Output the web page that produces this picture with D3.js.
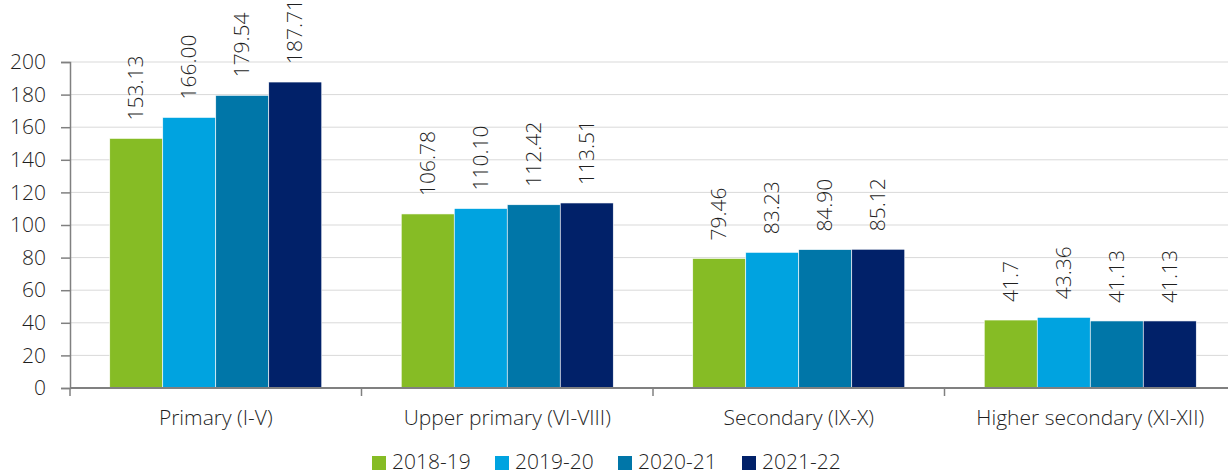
<!DOCTYPE html>
<html><head><meta charset="utf-8">
<script src="https://cdn.jsdelivr.net/npm/d3@7"></script>
<style>body{margin:0;background:#fff}svg{display:block}</style>
</head><body>
<svg id="c" width="1228" height="475"></svg>
<script>
const categories = ["Primary (I-V)", "Upper primary (VI-VIII)", "Secondary (IX-X)", "Higher secondary (XI-XII)"];
const seriesNames = ["2018-19", "2019-20", "2020-21", "2021-22"];
const s2018 = [153.13, 106.78, 79.46, 41.7];
const s2019 = [166.00, 110.10, 83.23, 43.36];
const s2020 = [179.54, 112.42, 84.90, 41.13];
const s2021 = [187.71, 113.51, 85.12, 41.13];
const labels2018 = ["153.13", "106.78", "79.46", "41.7"];
const labels2019 = ["166.00", "110.10", "83.23", "43.36"];
const labels2020 = ["179.54", "112.42", "84.90", "41.13"];
const labels2021 = ["187.71", "113.51", "85.12", "41.13"];
const yTicks = [0, 20, 40, 60, 80, 100, 120, 140, 160, 180, 200];
const colors = ["#86bc25", "#00a3e0", "#0076a8", "#012169"];

const series = [s2018, s2019, s2020, s2021];
const labels = [labels2018, labels2019, labels2020, labels2021];

const svg = d3.select("#c");
const font = "'Open Sans', sans-serif";
const fw = 300;
const fs = 21;
const txt = "#1f1f1f";
const x0 = 70, x1 = 1236, yTop = 62, yBot = 388;

const x = d3.scaleBand().domain(categories).range([x0, x1]).paddingInner(0).paddingOuter(0);
const bw = 53;
const xs = d3.scaleBand().domain(seriesNames).range([0, bw * 4]);
const y = d3.scaleLinear().domain([0, 200]).range([yBot, yTop]);

// gridlines
svg.append("g").selectAll("line").data(yTicks.filter(d => d > 0)).join("line")
  .attr("x1", x0).attr("x2", 1228).attr("y1", d => y(d)).attr("y2", d => y(d))
  .attr("stroke", "#d9d9d9").attr("stroke-width", 1);

// y axis
const ya = svg.append("g").attr("transform", `translate(${x0},0)`)
  .call(d3.axisLeft(y).tickValues(yTicks).tickSize(9).tickPadding(15));
ya.select(".domain").attr("stroke", "#808080").attr("stroke-width", 1.5);
ya.selectAll(".tick line").attr("stroke", "#808080").attr("stroke-width", 1.5);
ya.selectAll(".tick text").attr("font-family", font).attr("font-weight", fw)
  .attr("font-size", fs).attr("fill", txt);

// bars
const groups = svg.append("g").selectAll("g").data(categories).join("g")
  .attr("transform", d => `translate(${x(d) + (x.bandwidth() - bw * 4) / 2},0)`);
seriesNames.forEach((s, si) => {
  groups.append("rect")
    .attr("x", xs(s)).attr("width", xs.bandwidth())
    .attr("y", (d, i) => y(series[si][i]))
    .attr("height", (d, i) => yBot - y(series[si][i]))
    .attr("fill", colors[si]).attr("stroke", "#ffffff").attr("stroke-width", 0.6);
  groups.append("text")
    .attr("transform", (d, i) => `translate(${xs(s) + xs.bandwidth() / 2 + 7},${y(series[si][i]) - 18}) rotate(-90)`)
    .attr("font-family", font).attr("font-weight", fw).attr("font-size", fs).attr("fill", txt)
    .text((d, i) => labels[si][i]);
});

// x axis
svg.append("line").attr("x1", x0).attr("x2", 1228).attr("y1", yBot).attr("y2", yBot)
  .attr("stroke", "#808080").attr("stroke-width", 2);
svg.append("g").selectAll("line").data(d3.range(categories.length + 1)).join("line")
  .attr("x1", i => x0 + i * x.step()).attr("x2", i => x0 + i * x.step())
  .attr("y1", yBot).attr("y2", yBot + 8).attr("stroke", "#808080").attr("stroke-width", 1.5);
svg.append("g").selectAll("text").data(categories).join("text")
  .attr("x", d => x(d) + x.bandwidth() / 2).attr("y", 425)
  .attr("text-anchor", "middle").attr("font-family", font).attr("font-weight", fw)
  .attr("font-size", fs).attr("fill", txt).text(d => d);

// legend
const legX = [372, 495, 618, 742];
const leg = svg.append("g").selectAll("g").data(seriesNames).join("g")
  .attr("transform", (d, i) => `translate(${legX[i]},0)`);
leg.append("rect").attr("x", 0).attr("y", 456).attr("width", 14).attr("height", 14)
  .attr("fill", (d, i) => colors[i]);
leg.append("text").attr("x", 20).attr("y", 469).attr("font-family", font).attr("font-weight", fw)
  .attr("font-size", fs).attr("fill", txt).text(d => d);
</script>
</body></html>
